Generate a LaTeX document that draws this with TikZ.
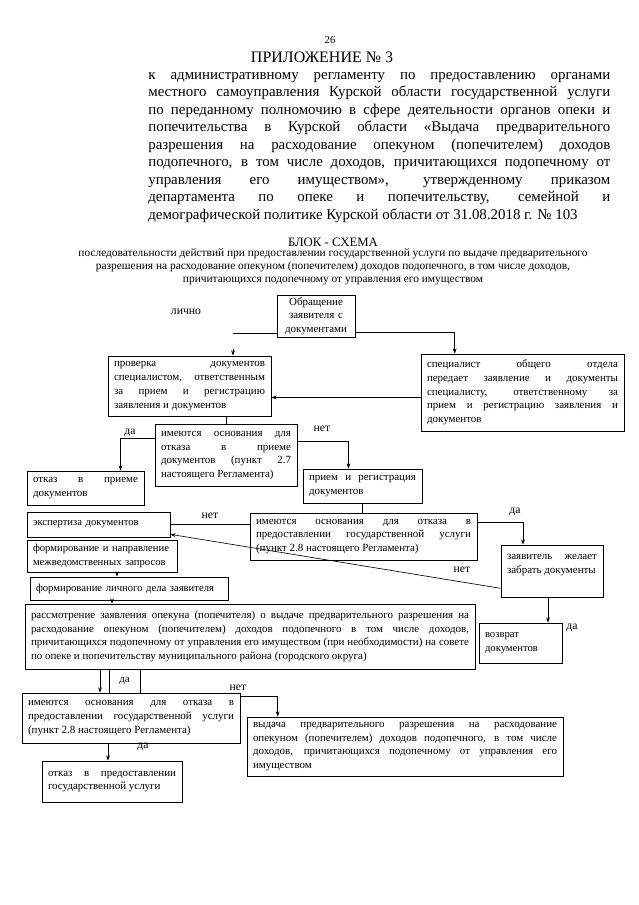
\documentclass[tikz,border=0pt]{standalone}
\usepackage{fontspec}
\setmainfont{Liberation Serif}
\usetikzlibrary{arrows.meta,positioning,calc}
\newdimen\px \px=0.033cm

\begin{document}
\begin{tikzpicture}[x=0.033cm,y=-0.033cm,>={Stealth[length=5pt,width=3.5pt]},line width=0.6pt]
\tikzstyle{b}=[draw,inner xsep=6*\px,inner ysep=2pt,align=justify,font=\fontsize{10.3}{12.9}\selectfont]
\tikzstyle{bl}=[b,align=left,font=\fontsize{10}{12.6}\selectfont]
\tikzstyle{lbl}=[font=\fontsize{11}{13}\selectfont,inner sep=1pt]
\useasboundingbox (0,0) rectangle (639,905);
% header
\node[font=\fontsize{10}{12}\selectfont] (pnum) at (330,40) {26};
\node[font=\fontsize{15}{17}\selectfont] (pril) at (322,57) {ПРИЛОЖЕНИЕ № 3};
\node[anchor=north west,inner sep=0,text width=462*\px,align=justify,font=\fontsize{14}{16.4}\selectfont] (ptext) at (148,72) {к административному регламенту по предоставлению органами\linebreak местного самоуправления Курской области государственной услуги\linebreak по переданному полномочию в сфере деятельности органов опеки и\linebreak попечительства в Курской области «Выдача предварительного\linebreak разрешения на расходование опекуном (попечителем) доходов\linebreak подопечного, в том числе доходов, причитающихся подопечному от\linebreak управления его имуществом», утвержденному приказом\linebreak департамента по опеке и попечительству, семейной и\linebreak демографической политике Курской области от 31.08.2018 г. №~103};
\node[font=\fontsize{12}{14}\selectfont] (title) at (333,242) {БЛОК - СХЕМА};
\node[align=center,font=\fontsize{10.7}{12}\selectfont,inner sep=0] (sub) at (333,267) {последовательности действий при предоставлении государственной услуги по выдаче предварительного\\ разрешения на расходование опекуном (попечителем) доходов подопечного, в том числе доходов,\\ причитающихся подопечному от управления его имуществом};
% blocks
\node[b,align=center,text width=66*\px,minimum height=40*\px] (obr) at (316,316) {Обращение\\ заявителя с\\ документами};
\node[b,text width=151*\px,minimum height=60*\px] (prov) at (189.5,386) {проверка документов\linebreak специалистом, ответственным\linebreak за прием и регистрацию\linebreak заявления и документов};
\node[b,text width=191*\px,minimum height=77*\px] (spec) at (522.5,392.5) {специалист общего отдела\linebreak передает заявление и документы\linebreak специалисту, ответственному за\linebreak прием и регистрацию заявления и\linebreak документов};
\node[b,text width=130*\px,minimum height=62*\px] (dec1) at (226,455.5) {имеются основания для\linebreak отказа в приеме\linebreak документов (пункт 2.7\linebreak настоящего Регламента)};
\node[b,text width=105*\px,minimum height=34*\px] (otkaz1) at (85.5,488) {отказ в приеме\linebreak документов};
\node[b,text width=107*\px,minimum height=34*\px] (priem) at (362.5,486) {прием и регистрация\linebreak документов};
\node[bl,text width=131*\px,minimum height=25*\px] (ekspert) at (98.5,524.5) {экспертиза документов};
\node[b,text width=215*\px,minimum height=47*\px] (dec2) at (363.5,536.5) {имеются основания для отказа в\linebreak предоставлении государственной услуги\linebreak (пункт 2.8 настоящего Регламента)};
\node[b,text width=90*\px,minimum height=52*\px] (zhel) at (552,571) {заявитель желает\linebreak забрать документы\\ \mbox{}};
\node[bl,text width=138*\px,minimum height=32*\px] (form1) at (102,556) {формирование и направление\\ межведомственных запросов};
\node[bl,text width=186*\px,minimum height=23*\px] (form2) at (129,588.5) {формирование личного дела заявителя};
\node[b,text width=438*\px,minimum height=65*\px] (rass) at (250,636.5) {рассмотрение заявления опекуна (попечителя) о выдаче предварительного разрешения на\linebreak расходование опекуном (попечителем) доходов подопечного в том числе доходов,\linebreak причитающихся подопечному от управления его имуществом (при необходимости) на совете\linebreak по опеке и попечительству муниципального района (городского округа)};
\node[bl,text width=71*\px,minimum height=40*\px] (vozvrat) at (520.5,643) {возврат\\ документов};
\node[b,align=center,minimum width=31*\px,minimum height=24*\px,inner xsep=2pt] (dab) at (124.5,681) {да};
\node[b,text width=206*\px,minimum height=50*\px] (dec3) at (131,718) {имеются основания для отказа в\linebreak предоставлении государственной услуги\linebreak (пункт 2.8 настоящего Регламента)};
\node[b,text width=128*\px,minimum height=41*\px] (otkaz2) at (112,781.5) {отказ в предоставлении\linebreak государственной услуги};
\node[b,text width=304*\px,minimum height=59*\px] (vydacha) at (405,746.5) {выдача предварительного разрешения на расходование\linebreak опекуном (попечителем) доходов подопечного, в том числе\linebreak доходов, причитающихся подопечному от управления его\linebreak имуществом};
% connectors
\coordinate (lich) at (233,333);
\node[lbl] (lichno) at (186,312) {лично};
\draw (obr.west |- lich) -- (lich);
\draw[->] ([yshift=6pt]prov.north -| lich) -- (prov.north -| lich);
\draw[->] ($(obr.south east)+(0,-5)$) -| ($(spec.north west)+(34,0)$);
\coordinate (s1) at ($(spec.west)+(0,5)$);
\draw[->] (s1) -- (s1 -| prov.east);
\draw (prov.south -| dec1.north) -- (dec1.north);
\coordinate (d1l) at ($(dec1.west)+(0,-17)$);
\draw[->] (d1l) -| ($(otkaz1.north)+(35,0)$);
\coordinate (d1r) at ($(dec1.east)+(0,-14)$);
\draw[->] (d1r) -| ($(priem.north)+(-14,0)$);
\draw (priem.south) -- (priem.south |- dec2.north);
\draw (ekspert.east) -- (ekspert.east -| dec2.west);
\coordinate (d2r) at ($(dec2.east)+(0,-14)$);
\draw[->] (d2r) -| ($(zhel.north)+(-29,0)$);
\draw[->] ($(zhel.south west)+(0,-9)$) -- ($(ekspert.south east)+(0,-3)$);
\coordinate (z1) at ($(zhel.south)+(-4,0)$);
\draw[->] (z1) -- (z1 |- vozvrat.north);
\coordinate (f1) at ($(form1.south)+(15,0)$);
\draw[->] (f1) -- (f1 |- form2.north);
\coordinate (f2) at ($(form2.south)+(-17,0)$);
\draw[->] (f2) -- (f2 |- rass.north);
\coordinate (r1) at ($(rass.south)+(-150,0)$);
\draw[->] (r1) -- (r1 |- dec3.north);
\coordinate (d3r) at ($(dec3.north east)+(0,4)$);
\draw[->] (d3r) -| ($(vydacha.north west)+(31,0)$);
\coordinate (d3b) at ($(dec3.south)+(-23,0)$);
\draw[->] (d3b) -- (d3b |- otkaz2.north);
% labels
\node[lbl] (l1) at (130,433) {да};
\node[lbl] (l2) at (322,429) {нет};
\node[lbl] (l3) at (210,516) {нет};
\node[lbl] (l4) at (515,512) {да};
\node[lbl] (l5) at (462,570) {нет};
\node[lbl] (l6) at (572,628) {да};
\node[lbl] (l7) at (238,688) {нет};
\node[lbl] (l8) at (143,747) {да};
\end{tikzpicture}
\end{document}
